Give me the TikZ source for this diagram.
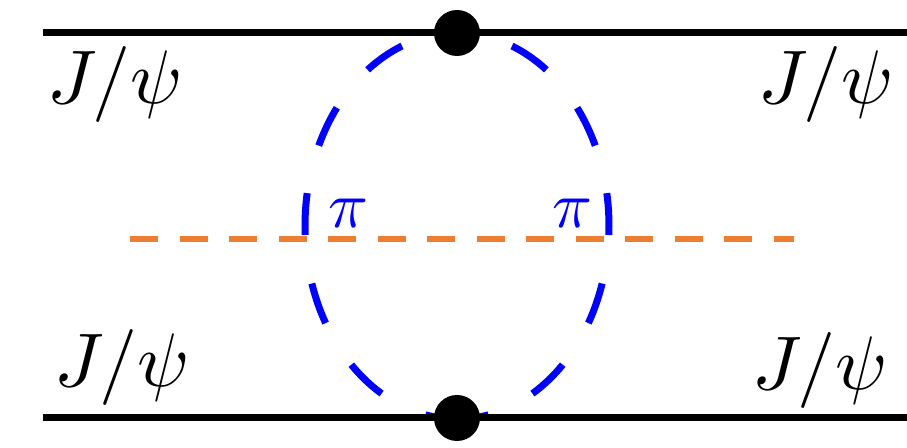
\documentclass[tikz,border=0pt]{standalone}
\usepackage{amsmath,amssymb}
\usepackage{xcolor}
\usepackage{tikz}
\usetikzlibrary{arrows.meta,positioning,calc}
\definecolor{pionblue}{RGB}{0,0,255}
\definecolor{cutorange}{RGB}{237,125,49}

\begin{document}
\begin{tikzpicture}[x=0.5pt, y=0.5pt,
    jpsi/.style={line width=3.5pt, black},
    vertex/.style={circle, fill=black, minimum size=23pt, inner sep=0pt},
    pion/.style={pionblue, line width=3.5pt, dash pattern=on 21pt off 24.5pt, dash phase=17pt},
    cut/.style={cutorange, line width=3pt, dash pattern=on 14pt off 10.75pt},
    lbl/.style={inner sep=0pt, scale=3.8, transform shape},
    plbl/.style={inner sep=0pt, text=pionblue, scale=3.3, transform shape}]
  \useasboundingbox (0,0) rectangle (907,448);
  % external charmonium lines
  \coordinate (tin) at (43,415);  \coordinate (tout) at (907,415);
  \coordinate (bin) at (43,30);   \coordinate (bout) at (907,30);
  % cut through the pion loop
  \coordinate (cutL) at (130,209); \coordinate (cutR) at (794,209);
  \draw[cut] (cutL) -- (cutR);
  % pion loop, two halves from the upper vertex down
  \coordinate (vt) at (457,415);
  \draw[pion] (vt) arc[start angle=90, end angle=-90, x radius=152, y radius=193];
  \draw[pion] (vt) arc[start angle=90, end angle=270, x radius=152, y radius=193];
  \draw[jpsi] (tin) -- (tout);
  \draw[jpsi] (bin) -- (bout);
  \node[vertex] (vtop) at (vt) {};
  \node[vertex] (vbot) at (457,30) {};
  % labels
  \node[lbl] (jtl) at (115,363) {$J/\psi$};
  \node[lbl] (jtr) at (826,363) {$J/\psi$};
  \node[lbl] (jbl) at (122,80) {$J/\psi$};
  \node[lbl] (jbr) at (820,77) {$J/\psi$};
  \node[plbl] (pil) at (348,235) {$\pi$};
  \node[plbl] (pir) at (572,235) {$\pi$};
\end{tikzpicture}
\end{document}
